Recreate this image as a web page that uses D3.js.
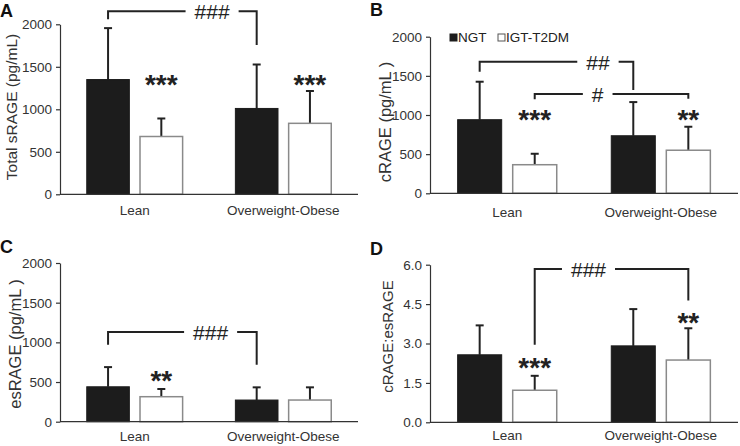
<!DOCTYPE html>
<html><head><meta charset="utf-8">
<script src="https://cdn.jsdelivr.net/npm/d3@7"></script>
<style>body{margin:0;background:#fff} svg{display:block;font-family:"Liberation Sans",Arial,sans-serif}</style>
</head><body><svg id="c" width="740" height="446"></svg>
<script>
// ---- data ----
const groups = ["Lean", "Overweight-Obese"];
const series = ["NGT", "IGT-T2DM"];
const panelIds = ["A", "B", "C", "D"];
const yLabels = ["Total sRAGE (pg/mL)", "cRAGE (pg/mL )", "esRAGE (pg/mL )", "cRAGE:esRAGE"];
const yMax = [2000, 2000, 2000, 6];
const yTicks = [[0, 500, 1000, 1500, 2000], [0, 500, 1000, 1500, 2000], [0, 500, 1000, 1500, 2000], [0, 1.5, 3, 4.5, 6]];
// order: Lean NGT, Lean IGT-T2DM, Overweight-Obese NGT, Overweight-Obese IGT-T2DM
const totalSRAGE = [1350, 680, 1010, 835];
const totalSRAGE_sd = [605, 212, 517, 380];
const cRAGE = [940, 365, 735, 550];
const cRAGE_sd = [485, 140, 430, 300];
const esRAGE = [440, 315, 273, 273];
const esRAGE_sd = [248, 97, 160, 160];
const ratio = [2.57, 1.22, 2.91, 2.37];
const ratio_sd = [1.12, 0.55, 1.40, 1.21];
const means = [totalSRAGE, cRAGE, esRAGE, ratio];
const sds = [totalSRAGE_sd, cRAGE_sd, esRAGE_sd, ratio_sd];
const stars = [
  {panel: 0, group: 0, series: 1, text: "***", y: 1368},
  {panel: 0, group: 1, series: 1, text: "***", y: 1368},
  {panel: 1, group: 0, series: 1, text: "***", y: 1025},
  {panel: 1, group: 1, series: 1, text: "**", y: 1025},
  {panel: 2, group: 0, series: 1, text: "**", y: 601},
  {panel: 3, group: 0, series: 1, text: "***", y: 2.35},
  {panel: 3, group: 1, series: 1, text: "**", y: 4.06}
];
const brackets = [
  {panel: 0, from: [0, 0], to: [1, 0], level: 2153, leftEnd: 2059, rightEnd: 1756, text: "###", pos: 0.70},
  {panel: 1, from: [0, 0], to: [1, 0], level: 1680, leftEnd: 1552, rightEnd: 1318, text: "##", pos: 0.77},
  {panel: 1, from: [0, 1], to: [1, 1], level: 1267, leftEnd: 1200, rightEnd: 1207, text: "#", pos: 0.41},
  {panel: 2, from: [0, 0], to: [1, 0], level: 1130, leftEnd: 970, rightEnd: 718, text: "###", pos: 0.69},
  {panel: 3, from: [0, 1], to: [1, 1], level: 5.84, leftEnd: 2.95, rightEnd: 4.64, text: "###", pos: 0.35}
];

// ---- layout ----
const layout = [
  {x0: 60, x1: 358, yb: 194.3, yt: 24.3, letter: [0, 17], ylab: [17, 107], ylabSize: 15.5, xPad: 11.5},
  {x0: 430, x1: 738, yb: 193.3, yt: 36.7, letter: [370, 15.5], ylab: [391, 122], ylabSize: 16.5, xPad: 14},
  {x0: 60, x1: 358, yb: 421.7, yt: 263, letter: [0, 253], ylab: [21, 344], ylabSize: 16.5, xPad: 10},
  {x0: 430, x1: 738, yb: 422.3, yt: 264.7, letter: [370, 254.7], ylab: [393, 336.5], ylabSize: 15, xPad: 8}
];
const fills = ["#1c1c1c", "#ffffff"];
const strokes = ["#1c1c1c", "#8a8a8a"];
const ink = "#222";

const svg = d3.select("#c");

panelIds.forEach((pid, p) => {
  const L = layout[p];
  const g = svg.append("g");
  const x0 = d3.scaleBand().domain(groups).range([L.x0, L.x1]).paddingInner(0.355).paddingOuter(0.18);
  const x1 = d3.scaleBand().domain(series).range([0, x0.bandwidth()]).paddingInner(0.2);
  const y = d3.scaleLinear().domain([0, yMax[p]]).range([L.yb, L.yt]);
  const cx = (gi, si) => x0(groups[gi]) + x1(series[si]) + x1.bandwidth() / 2;

  const rows = [];
  groups.forEach((gr, gi) => series.forEach((s, si) => {
    const k = gi * 2 + si;
    rows.push({gi, si, gr, s, m: means[p][k], sd: sds[p][k]});
  }));

  // error bars (upward only)
  const eb = g.append("g");
  rows.forEach(r => {
    const xc = cx(r.gi, r.si);
    eb.append("line").attr("x1", xc).attr("x2", xc).attr("y1", y(r.m)).attr("y2", y(r.m + r.sd))
      .attr("stroke", ink).attr("stroke-width", 2);
    eb.append("line").attr("x1", xc - 4).attr("x2", xc + 4).attr("y1", y(r.m + r.sd)).attr("y2", y(r.m + r.sd))
      .attr("stroke", ink).attr("stroke-width", 2);
  });

  // bars
  g.append("g").selectAll("rect").data(rows).join("rect")
    .attr("x", d => x0(d.gr) + x1(d.s))
    .attr("width", x1.bandwidth())
    .attr("y", d => y(d.m))
    .attr("height", d => y(0) - y(d.m))
    .attr("fill", d => fills[d.si])
    .attr("stroke", d => strokes[d.si])
    .attr("stroke-width", d => d.si ? 1.5 : 1);

  // y axis
  const fmt = p === 3 ? d3.format(".1f") : d3.format("d");
  const ya = g.append("g").attr("transform", `translate(${L.x0},0)`)
    .call(d3.axisLeft(y).tickValues(yTicks[p]).tickFormat(fmt).tickSize(4).tickSizeOuter(0).tickPadding(4));
  ya.selectAll("text").attr("font-size", 13.5).attr("fill", "#333").attr("font-family", "Liberation Sans, Arial, sans-serif");
  ya.selectAll("line,path").attr("stroke", "#333").attr("stroke-width", 1.2);

  // x axis
  const xa = g.append("g").attr("transform", `translate(0,${L.yb})`)
    .call(d3.axisBottom(x0).tickSize(0).tickSizeOuter(0).tickPadding(L.xPad));
  xa.selectAll("text").attr("font-size", 13.5).attr("fill", "#333").attr("font-family", "Liberation Sans, Arial, sans-serif");
  xa.select("path").attr("stroke", "#333").attr("stroke-width", 1.2).attr("d", `M${L.x0},0H${L.x1}`);

  // y label
  g.append("text").attr("transform", `translate(${L.ylab[0]},${L.ylab[1]}) rotate(-90)`)
    .attr("text-anchor", "middle").attr("font-size", L.ylabSize).attr("fill", "#333").text(yLabels[p]);

  // panel letter
  g.append("text").attr("x", L.letter[0]).attr("y", L.letter[1]).attr("font-size", 18)
    .attr("font-weight", "bold").attr("fill", "#111").text(pid);

  // stars
  stars.filter(s => s.panel === p).forEach(s => {
    g.append("text").attr("x", cx(s.group, s.series)).attr("y", y(s.y) + 16)
      .attr("text-anchor", "middle").attr("font-size", 28).attr("font-weight", "bold")
      .attr("fill", ink).text(s.text);
  });

  // brackets
  brackets.filter(b => b.panel === p).forEach(b => {
    const xa_ = cx(b.from[0], b.from[1]), xb_ = cx(b.to[0], b.to[1]);
    const ly = y(b.level);
    const tx = xa_ + (xb_ - xa_) * b.pos;
    const t = g.append("text").attr("x", tx).attr("y", ly + 8).attr("text-anchor", "middle")
      .attr("font-size", 21).attr("fill", ink).text(b.text);
    const half = t.node().getComputedTextLength() / 2 + 9;
    g.append("path")
      .attr("d", `M${xa_},${y(b.leftEnd)}V${ly}H${tx - half}M${tx + half},${ly}H${xb_}V${y(b.rightEnd)}`)
      .attr("fill", "none").attr("stroke", ink).attr("stroke-width", 2);
  });

  // legend (panel B)
  if (p === 1) {
    const lx = [450, 498];
    series.forEach((s, si) => {
      g.append("rect").attr("x", lx[si]).attr("y", 34).attr("width", 7).attr("height", 7)
        .attr("fill", fills[si]).attr("stroke", si ? "#555" : fills[si]).attr("stroke-width", 1);
      g.append("text").attr("x", lx[si] + 8).attr("y", 42).attr("font-size", 13.5).attr("fill", "#222").text(s);
    });
  }
});
</script>
</body></html>
